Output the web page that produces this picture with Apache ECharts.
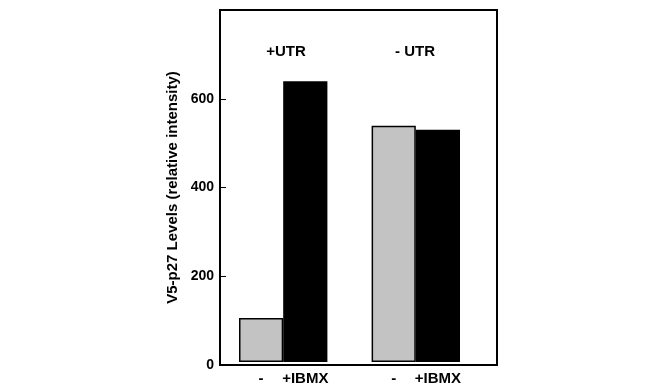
<!DOCTYPE html>
<html>
<head>
<meta charset="utf-8">
<script src="https://cdn.jsdelivr.net/npm/echarts@6/dist/echarts.min.js"></script>
<style>
  html, body { margin: 0; padding: 0; background: #fff; }
  #chart { width: 652px; height: 386px; }
</style>
</head>
<body>
<div id="chart"></div>
<script>
// slots along the x axis: control, +IBMX, gap, control, +IBMX
var categories = ['-', '+IBMX', '', '-', '+IBMX'];
var controlVals = [100, 537];   // grey bars (+UTR, -UTR)
var ibmxVals = [638, 528];      // black bars (+UTR, -UTR)
var groupNames = ['+UTR', '- UTR'];
var yTicks = [0, 200, 400, 600];

var greyData = [controlVals[0], '-', '-', controlVals[1], '-'];
var blackData = ['-', ibmxVals[0], '-', '-', ibmxVals[1]];

var chart = echarts.init(document.getElementById('chart'));
var font = 'Liberation Sans, Arial, sans-serif';

var option = {
	animation: false,
	backgroundColor: '#fff',
	grid: [
		{ // frame + y axis
			left: 220, right: 155, top: 10, bottom: 21,
			show: true, borderColor: '#000', borderWidth: 2
		},
		{ // bars
			left: 239, width: 221, top: 10, bottom: 21
		}
	],
	xAxis: [
		{
			gridIndex: 0, type: 'category', data: [''],
			axisLine: { show: true, lineStyle: { color: '#000', width: 2 } },
			axisTick: { show: false }, axisLabel: { show: false }
		},
		{
			gridIndex: 1, type: 'category', data: categories,
			axisLine: { show: false }, axisTick: { show: false },
			axisLabel: {
				color: '#000', fontFamily: font, fontWeight: 'bold',
				fontSize: 15, margin: 9, interval: 0
			}
		}
	],
	yAxis: [
		{
			gridIndex: 0, type: 'value', min: 0, max: 800, interval: 200,
			name: 'V5-p27 Levels (relative intensity)',
			nameLocation: 'middle', nameGap: 40, nameRotate: 90,
			nameTextStyle: { color: '#000', fontFamily: font, fontWeight: 'bold', fontSize: 15 },
			axisLine: { show: true, lineStyle: { color: '#000', width: 2 } },
			axisTick: { show: true, inside: true, length: 6, lineStyle: { color: '#000', width: 1 } },
			axisLabel: {
				color: '#000', fontFamily: font, fontWeight: 'bold', fontSize: 14, margin: 6,
				formatter: function (v) { return yTicks.indexOf(v) >= 0 ? v : ''; }
			},
			splitLine: { show: false }
		},
		{
			gridIndex: 1, type: 'value', min: 0, max: 800, interval: 200,
			axisLine: { show: false }, axisTick: { show: false },
			axisLabel: { show: false }, splitLine: { show: false }
		}
	],
	series: [
		{
			type: 'bar', xAxisIndex: 1, yAxisIndex: 1,
			data: greyData, barWidth: '100%', barGap: '-100%',
			itemStyle: { color: '#c3c3c3', borderColor: '#000', borderWidth: 1.5 }
		},
		{
			type: 'bar', xAxisIndex: 1, yAxisIndex: 1,
			data: blackData, barWidth: '100%', barGap: '-100%',
			itemStyle: { color: '#000' }
		}
	],
	graphic: [
		{
			type: 'text', x: 286, y: 52,
			style: { text: groupNames[0], align: 'center', verticalAlign: 'middle',
				fill: '#000', font: 'bold 15px ' + font }
		},
		{
			type: 'text', x: 415, y: 52,
			style: { text: groupNames[1], align: 'center', verticalAlign: 'middle',
				fill: '#000', font: 'bold 15px ' + font }
		}
	]
};
chart.setOption(option);
</script>
</body>
</html>
